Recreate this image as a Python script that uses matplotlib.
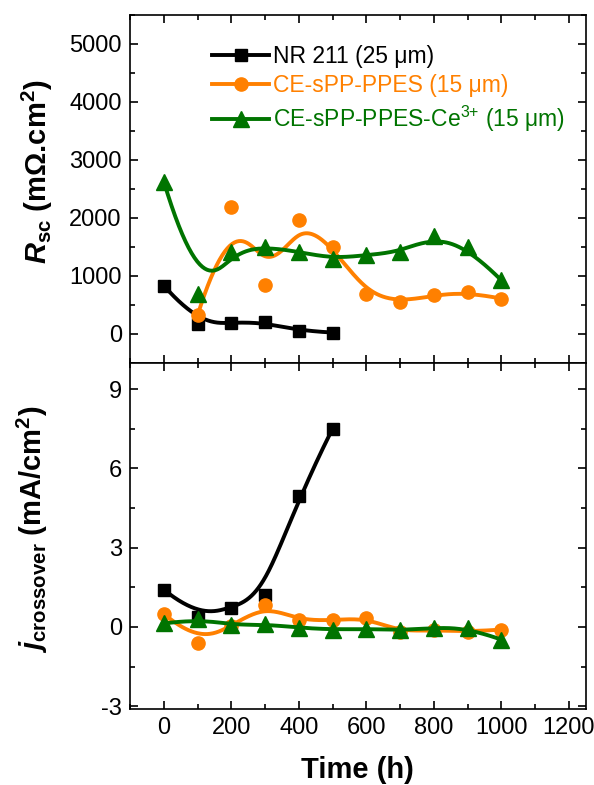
import numpy as np
import matplotlib
matplotlib.use("Agg")
import matplotlib.pyplot as plt
from matplotlib.ticker import MultipleLocator

plt.rcParams['font.family'] = ['Liberation Sans', 'DejaVu Sans']
plt.rcParams['axes.unicode_minus'] = False
plt.rcParams['mathtext.fontset'] = 'custom'
plt.rcParams['mathtext.rm'] = 'Liberation Sans'
plt.rcParams['mathtext.it'] = 'Liberation Sans:italic'
plt.rcParams['mathtext.bf'] = 'Liberation Sans:bold'
plt.rcParams['mathtext.bfit'] = 'Liberation Sans:italic:bold'

# data
time_nr = [0, 100, 200, 300, 400, 500]
time_ce = [100, 200, 300, 400, 500, 600, 700, 800, 900, 1000]
time_all = [0, 100, 200, 300, 400, 500, 600, 700, 800, 900, 1000]

rsc_nr = [830, 170, 190, 200, 50, 20]
rsc_ce = [317, 2180, 836, 1960, 1500, 692, 547, 663, 720, 605]
rsc_ce3 = [2623, 692, 1412, 1500, 1412, 1297, 1355, 1412, 1680, 1500, 922]

jx_nr = [1.41, 0.38, 0.73, 1.2, 4.97, 7.5]
jx_ce = [0.5, -0.6, 0.03, 0.82, 0.25, 0.25, 0.35, -0.19, -0.1, -0.19, -0.1]
jx_ce3 = [0.13, 0.3, 0.06, 0.1, -0.03, -0.1, -0.07, -0.13, -0.03, -0.03, -0.48]

labels = ['NR 211 (25 μm)', 'CE-sPP-PPES (15 μm)', r'CE-sPP-PPES-Ce$^{3{+}}$ (15 μm)']
colors = ['black', '#ff8000', '#007400']
markers = ['s', 'o', '^']
msizes = [9, 9.5, 11]


def bspline(xs, ys, n=400, k=3):
    # clamped B-spline with the data points as control points (like Origin's B-spline)
    cp = np.column_stack([xs, ys]).astype(float)
    m = len(cp)
    k = min(k, m - 1)
    knots = np.concatenate([np.zeros(k), np.linspace(0, 1, m - k + 1), np.ones(k)])
    t = np.linspace(0, 1, n)
    N = np.zeros((len(knots) - 1, n))
    for i in range(len(knots) - 1):
        N[i] = (knots[i] <= t) & (t < knots[i + 1])
    last = np.max(np.nonzero(knots < 1)[0])
    N[last, -1] = 1.0
    for p in range(1, k + 1):
        Nn = np.zeros((len(knots) - 1 - p, n))
        for i in range(len(knots) - 1 - p):
            d1 = knots[i + p] - knots[i]
            d2 = knots[i + p + 1] - knots[i + 1]
            a = (t - knots[i]) / d1 * N[i] if d1 > 0 else 0
            b = (knots[i + p + 1] - t) / d2 * N[i + 1] if d2 > 0 else 0
            Nn[i] = a + b
        N = Nn
    c = N.T @ cp
    return c[:, 0], c[:, 1]


fig = plt.figure(figsize=(5.94, 7.85), dpi=100)
ax1 = fig.add_axes([0.219, 0.538, 0.767, 0.443])
ax2 = fig.add_axes([0.219, 0.097, 0.767, 0.441], sharex=ax1)

series1 = [(time_nr, rsc_nr), (time_ce, rsc_ce), (time_all, rsc_ce3)]
series2 = [(time_nr, jx_nr), (time_all, jx_ce), (time_all, jx_ce3)]

for ax, series in [(ax1, series1), (ax2, series2)]:
    for (x, y), c, mk, ms, lab in zip(series, colors, markers, msizes, labels):
        bx, by = bspline(x, y)
        ax.plot(bx, by, color=c, lw=2.8)
        ax.plot(x, y, ls='none', marker=mk, ms=ms, color=c)
        # proxy for legend
        ax.plot([], [], color=c, lw=2.8, marker=mk, ms=ms, label=lab)

ax1.set_xlim(-100, 1250)
ax1.set_ylim(-500, 5500)
ax2.set_ylim(-3.1, 10)
ax1.yaxis.set_major_locator(MultipleLocator(1000))
ax1.yaxis.set_minor_locator(MultipleLocator(500))
ax2.yaxis.set_major_locator(MultipleLocator(3))
ax2.yaxis.set_minor_locator(MultipleLocator(1.5))
ax2.xaxis.set_major_locator(MultipleLocator(200))
ax2.xaxis.set_minor_locator(MultipleLocator(100))

for ax in (ax1, ax2):
    for s in ax.spines.values():
        s.set_linewidth(1.2)
    ax.tick_params(which='both', direction='in', top=True, right=True, width=1.2,
                   labelsize=17, pad=6)
    ax.tick_params(which='major', length=6)
    ax.tick_params(which='minor', length=3.5)
ax1.tick_params(labelbottom=False)

ax1.set_ylabel(r'$\mathbfit{R}_{\mathbf{sc}}$ (mΩ.cm$^{\mathbf{2}}$)', fontsize=21, fontweight='bold')
ax2.set_ylabel(r'$\mathbfit{j}_{\mathbf{crossover}}$ (mA/cm$^{\mathbf{2}}$)', fontsize=21, fontweight='bold')
ax1.yaxis.set_label_coords(-0.165, 0.55)
ax2.yaxis.set_label_coords(-0.175, 0.52)
ax2.set_xlabel('Time (h)', fontsize=21, fontweight='bold', labelpad=12)

ax1.legend(loc='upper left', bbox_to_anchor=(0.16, 0.94), frameon=False, fontsize=16.5,
           handlelength=2.5, handletextpad=0.15, labelspacing=0.28, borderaxespad=0,
           labelcolor='linecolor')

fig.savefig('out.png', dpi=100)
